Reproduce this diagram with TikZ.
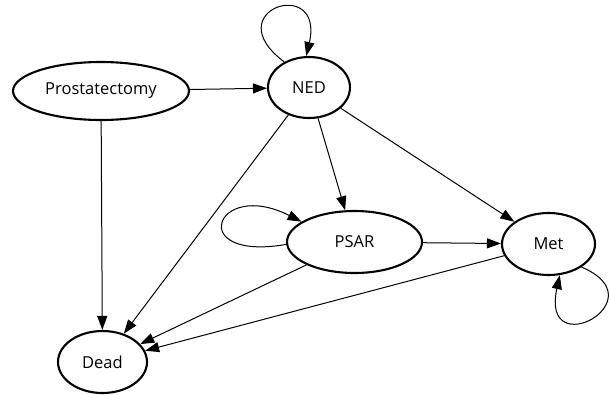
\documentclass[tikz,border=0pt]{standalone}
\usepackage{fontspec}
\setmainfont{Open Sans}
\usetikzlibrary{arrows.meta,shapes.geometric}

\begin{document}
\begin{tikzpicture}[x=1pt,y=-1pt,>={Triangle[length=14pt,width=10pt]},
  state/.style={ellipse,draw,line width=2.1pt,inner sep=0pt,font=\fontsize{16.5}{20}\selectfont},
  trans/.style={->,line width=1pt}]
\useasboundingbox(0,0)rectangle(610,394);
% states
\node[state,minimum width=176,minimum height=58](pros)at(101,91){Prostatectomy};
\node[state,minimum width=82,minimum height=61](ned)at(309,87.5){NED};
\node[state,minimum width=135,minimum height=62](psar)at(354.5,242){PSAR};
\node[state,minimum width=93,minimum height=62](met)at(548.5,244){Met};
\node[state,minimum width=89,minimum height=62](dead)at(102.5,362){Dead};
% transitions
\draw[trans](pros)--(ned);
\draw[trans](pros)--(dead);
\draw[trans](ned)--(dead);
\draw[trans](ned)--(psar);
\draw[trans](ned)--(met);
\draw[trans](psar)--(met);
\draw[trans](psar)--(dead);
\draw[trans](met)--(dead);
% self loops
\draw[trans](ned.134)..controls(215,10)and(325,-25)..(ned.95);
\draw[trans](psar.182)..controls(185,262)and(215,178)..(psar.159);
\draw[trans](met.-35)..controls(660,300)and(540,365)..(met.-70);
\end{tikzpicture}
\end{document}
